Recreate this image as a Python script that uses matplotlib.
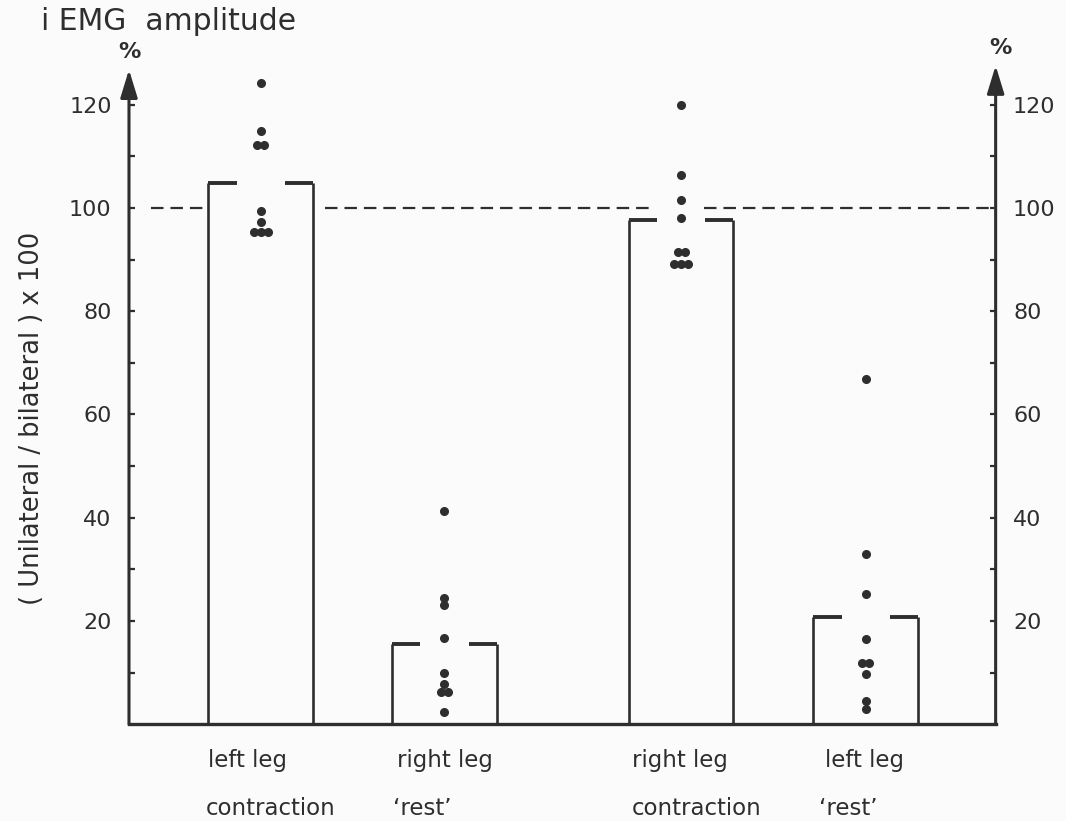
import numpy as np
import matplotlib.pyplot as plt

plt.rcParams['font.family'] = ['DejaVu Sans']
plt.rcParams['lines.scale_dashes'] = False

ink = '#2e2e2e'

bar_labels = ['left leg', 'right leg', 'right leg', 'left leg']
cond_labels = ['contraction', '\u2018rest\u2019', 'contraction', '\u2018rest\u2019']
bar_means = [104.9, 15.6, 97.7, 20.8]

# individual subjects, n = 9 per group
left_contr = [124.3, 114.9, 112.2, 112.2, 99.4, 97.3, 95.3, 95.3, 95.3]
right_rest = [41.3, 24.5, 23.0, 16.6, 9.9, 7.7, 6.2, 6.2, 2.4]
right_contr = [120.0, 106.3, 101.6, 98.0, 91.4, 91.4, 89.1, 89.1, 89.1]
left_rest = [66.9, 32.9, 25.3, 16.4, 11.9, 11.9, 9.8, 4.5, 2.9]
groups = [left_contr, right_rest, right_contr, left_rest]

yticks = [20, 40, 60, 80, 100, 120]
yminor = [10, 30, 50, 70, 90, 110]

# layout (x axis runs 0..10 between the two vertical axes)
xpos = [1.52, 3.64, 6.37, 8.50]
width = 1.21
label_x = [1.37, 3.64, 6.36, 8.49]
cond_x = [1.63, 3.38, 6.55, 8.30]

fig = plt.figure(figsize=(10.66, 8.21), dpi=100, facecolor='#fbfbfb')
ax = fig.add_axes([0.121, 0.118, 0.813, 0.8173])
ax.set_facecolor('none')
ax.set_xlim(0, 10)
ax.set_ylim(0, 130)

for s in ['top', 'left', 'right']:
    ax.spines[s].set_visible(False)
ax.spines['bottom'].set_linewidth(2.4)
ax.spines['bottom'].set_color(ink)

# vertical axes with arrow heads
for x0, tip in [(0, 126.8), (10, 127.6)]:
    ax.annotate('', xy=(x0, tip), xytext=(x0, 0), annotation_clip=False,
                arrowprops=dict(arrowstyle='-|>,head_width=0.26,head_length=0.85',
                                mutation_scale=20, lw=2.2, color=ink,
                                shrinkA=0, shrinkB=0))

ax.set_xticks([])
ax.set_yticks(yticks)
ax.set_yticks(yminor, minor=True)
ax.tick_params(axis='y', which='both', direction='in', length=4, width=1.6,
               left=True, right=True, labelleft=True, labelright=True,
               colors=ink, labelsize=16, pad=12.5)

# 100 % reference line, broken around bar 1 and the dots of bar 3
segs = [(0.25, xpos[0] - width / 2 - 0.05),
        (xpos[0] + width / 2 + 0.14, xpos[2] - 0.3),
        (xpos[2] + 0.27, 10)]
for a, b in segs:
    ax.plot([a, b], [100, 100], color=ink, lw=1.6, dashes=(9, 5))

# bars drawn as open outlines with broken tops
cap = 0.27 * width
for xc, h in zip(xpos, bar_means):
    l, r = xc - width / 2, xc + width / 2
    ax.plot([l, l], [0, h], color=ink, lw=1.9, solid_capstyle='butt')
    ax.plot([r, r], [0, h], color=ink, lw=1.9, solid_capstyle='butt')
    ax.plot([l, l + cap], [h, h], color=ink, lw=2.8, solid_capstyle='butt')
    ax.plot([r - cap, r], [h, h], color=ink, lw=2.8, solid_capstyle='butt')

# individual values, equal values side by side
for xc, vals in zip(xpos, groups):
    vals = np.array(vals)
    for v in np.unique(vals):
        k = int(np.sum(vals == v))
        offs = (np.arange(k) - (k - 1) / 2) * 0.08
        ax.plot(xc + offs, [v] * k, 'o', ms=5.5, color=ink, ls='none')

for x, s in zip(label_x, bar_labels):
    ax.text(x, -7.0, s, ha='center', va='center', fontsize=16.5, color=ink,
            clip_on=False)
for x, s in zip(cond_x, cond_labels):
    ax.text(x, -16.3, s, ha='center', va='center', fontsize=16.5, color=ink,
            clip_on=False)

ax.text(0, 130.3, '%', ha='center', va='center', fontsize=16, color=ink,
        fontweight='bold', clip_on=False)
ax.text(10.05, 131.0, '%', ha='center', va='center', fontsize=16, color=ink,
        fontweight='bold', clip_on=False)

fig.text(0.038, 0.974, 'i EMG  amplitude', fontsize=21.5, ha='left', va='center',
         color=ink)
fig.text(0.030, 0.491, '( Unilateral / bilateral ) x 100', rotation=90,
         ha='center', va='center', fontsize=18.5, color=ink)

fig.savefig('out.png', dpi=100, facecolor=fig.get_facecolor())
